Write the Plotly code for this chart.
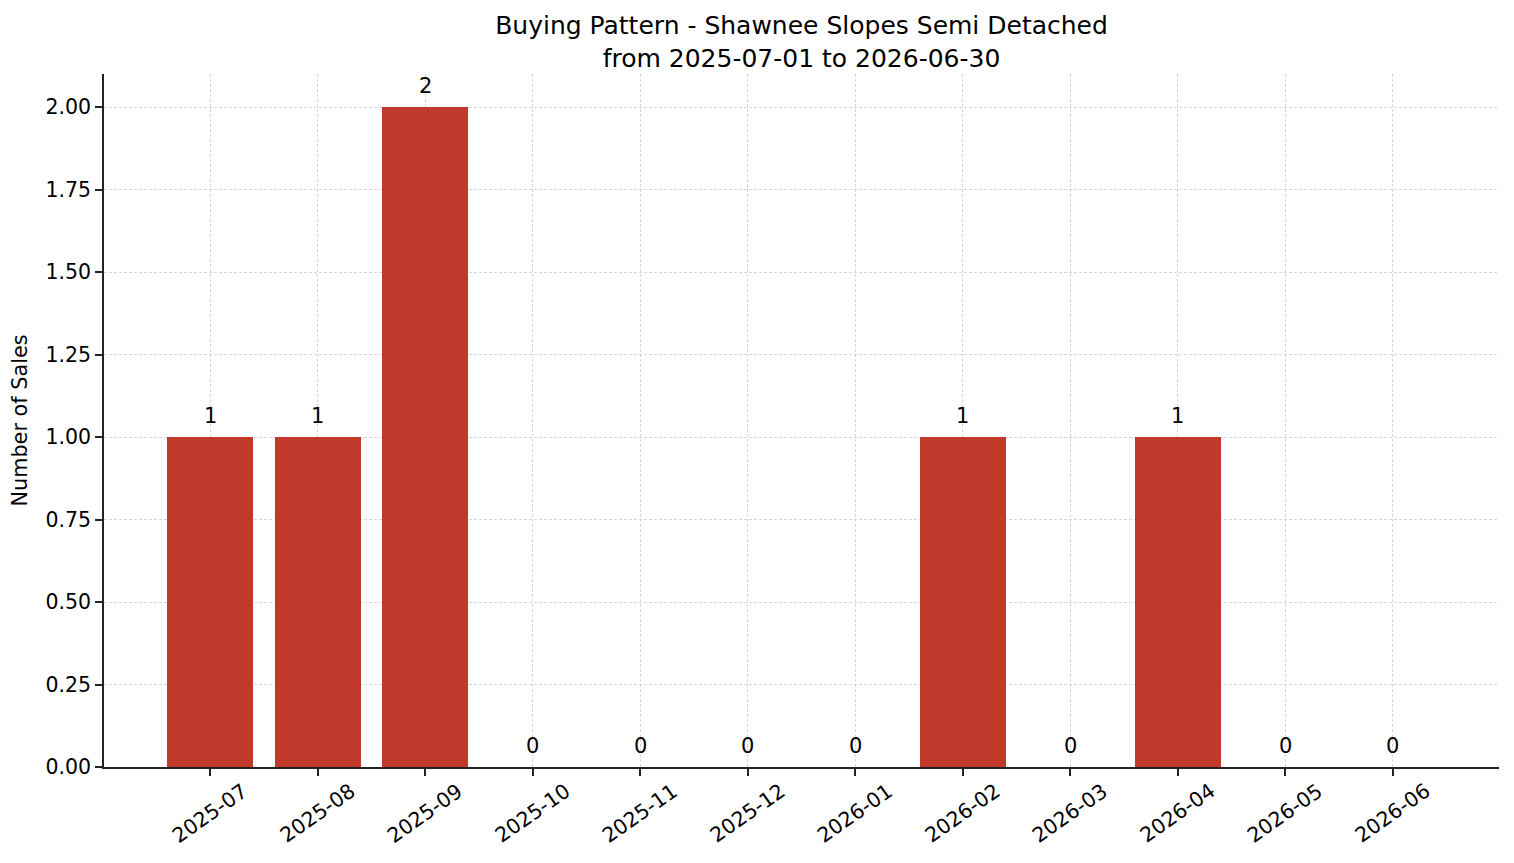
import plotly.graph_objects as go

months = ["2025-07", "2025-08", "2025-09", "2025-10", "2025-11", "2025-12",
          "2026-01", "2026-02", "2026-03", "2026-04", "2026-05", "2026-06"]
sales = [1, 1, 2, 0, 0, 0, 0, 1, 0, 1, 0, 0]
y_ticks = [0, 0.25, 0.5, 0.75, 1.0, 1.25, 1.5, 1.75, 2.0]
y_tick_labels = ["0.00", "0.25", "0.50", "0.75", "1.00", "1.25", "1.50", "1.75", "2.00"]

FONT = "DejaVu Sans"
idx = list(range(len(months)))

fig = go.Figure()
fig.add_trace(go.Bar(x=idx, y=sales, width=0.8, marker=dict(color="#c0392b", line=dict(width=0)),
                     showlegend=False, hoverinfo="skip"))

for i, v in enumerate(sales):
    fig.add_annotation(x=i, y=v, xref="x", yref="y", text=str(v), showarrow=False,
                       xanchor="center", yanchor="bottom", yshift=7,
                       font=dict(family=FONT, size=21, color="black"))

for i, m in enumerate(months):
    fig.add_annotation(x=i, y=0, xref="x", yref="paper", text=m, textangle=-35,
                       showarrow=False, xanchor="center", yanchor="top", yshift=-9,
                       font=dict(family=FONT, size=20.5, color="black"))

fig.update_layout(
    width=1514, height=863,
    margin=dict(l=104, r=15, t=74, b=96),
    plot_bgcolor="white", paper_bgcolor="white",
    font=dict(family=FONT, color="black"),
    title=dict(text="Buying Pattern - Shawnee Slopes Semi Detached<br>from 2025-07-01 to 2026-06-30",
               x=0.5, xanchor="center", xref="paper",
               y=1 - 34 / 863, yanchor="middle", yref="container",
               font=dict(family=FONT, size=25, color="black")),
    bargap=0,
)
grid = dict(showgrid=True, gridcolor="rgba(200,200,200,0.75)", gridwidth=1, griddash="3px,2px")
fig.update_xaxes(range=[-0.99, 11.99], tickmode="array", tickvals=idx, ticktext=[""] * 12,
                 showline=True, linecolor="#222", linewidth=1.7, mirror=False,
                 ticks="outside", ticklen=7, tickwidth=1.7, tickcolor="#222",
                 zeroline=False, **grid)
fig.update_yaxes(range=[0, 2.1], tickmode="array", tickvals=y_ticks, ticktext=y_tick_labels,
                 tickfont=dict(family=FONT, size=20.5, color="black"),
                 showline=True, linecolor="#222", linewidth=1.7,
                 ticks="outside", ticklen=7, tickwidth=1.7, tickcolor="#222",
                 zeroline=False, **grid,
                 title=dict(text="Number of Sales", font=dict(family=FONT, size=20.8, color="black"), standoff=12))

fig.write_html("out.html")
